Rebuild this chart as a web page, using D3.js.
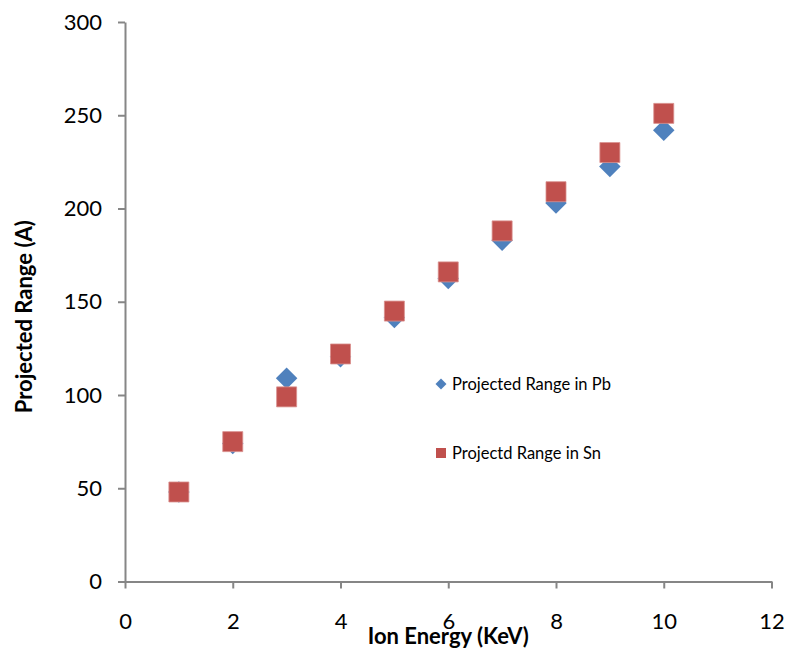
<!DOCTYPE html>
<html>
<head>
<meta charset="utf-8">
<script src="https://cdn.jsdelivr.net/npm/d3@7"></script>
<style>
  html, body { margin: 0; padding: 0; background: #fff; }
  svg { display: block; }
</style>
</head>
<body>
<svg id="chart" width="788" height="649"></svg>
<script>
// Ion energy (keV) and projected range (Å) for each target
const energies = [1, 2, 3, 4, 5, 6, 7, 8, 9, 10];
const rangePb = [48, 74, 109, 120.5, 141.5, 162.5, 183, 203, 222.5, 242];
const rangeSn = [48, 75, 99, 122, 145, 166, 188, 209, 230, 251];
const xTicks = [0, 2, 4, 6, 8, 10, 12];
const yTicks = [0, 50, 100, 150, 200, 250, 300];
const seriesNames = ["Projected Range in Pb", "Projectd Range in Sn"];

const svg = d3.select("#chart");
const font = "Lato, 'Open Sans', sans-serif";
const axisColor = "#868686";
const blue = "#4F81BD", red = "#C0504D";

const plot = { left: 125, right: 771.5, top: 22, bottom: 581.5 };

const x = d3.scaleLinear().domain([0, 12]).range([plot.left, plot.right]);
const y = d3.scaleLinear().domain([0, 300]).range([plot.bottom, plot.top]);

// Axes
const xAxis = svg.append("g")
  .attr("transform", `translate(0,${plot.bottom})`)
  .call(d3.axisBottom(x).tickValues(xTicks).tickSizeInner(7).tickSizeOuter(0).tickPadding(25));
const yAxis = svg.append("g")
  .attr("transform", `translate(${plot.left},0)`)
  .call(d3.axisLeft(y).tickValues(yTicks).tickSizeInner(7).tickSizeOuter(0).tickPadding(16));

[xAxis, yAxis].forEach(g => {
  g.select(".domain").attr("stroke", axisColor).attr("stroke-width", 2);
  g.selectAll(".tick line").attr("stroke", axisColor).attr("stroke-width", 2);
  g.selectAll(".tick text")
    .attr("fill", "#000")
    .style("font-family", font)
    .style("font-size", "22px");
});

// Axis titles
svg.append("text")
  .attr("x", (plot.left + plot.right) / 2)
  .attr("y", 644)
  .attr("text-anchor", "middle")
  .style("font-family", font)
  .style("font-weight", "bold")
  .style("font-size", "22px")
  .text("Ion Energy (KeV)");

svg.append("text")
  .attr("transform", `translate(32,${(plot.top + plot.bottom) / 2 + 15}) rotate(-90)`)
  .attr("text-anchor", "middle")
  .style("font-family", font)
  .style("font-weight", "bold")
  .style("font-size", "22px")
  .text("Projected Range (A)");

// Markers
const diamond = d3.symbol().type(d3.symbolSquare).size(230);
const square = d3.symbol().type(d3.symbolSquare).size(400);

svg.append("g").selectAll("path")
  .data(energies.map((e, i) => [e, rangePb[i]]))
  .join("path")
  .attr("d", diamond)
  .attr("transform", d => `translate(${x(d[0])},${y(d[1])}) rotate(45)`)
  .attr("fill", blue);

svg.append("g").selectAll("path")
  .data(energies.map((e, i) => [e, rangeSn[i]]))
  .join("path")
  .attr("d", square)
  .attr("transform", d => `translate(${x(d[0])},${y(d[1])})`)
  .attr("fill", red)
  .attr("stroke", "#d98f8d")
  .attr("stroke-width", 0.8);

// Legend
const legend = svg.append("g").style("font-family", font).style("font-size", "16.5px");
legend.append("path")
  .attr("d", d3.symbol().type(d3.symbolSquare).size(60))
  .attr("transform", "translate(441,384) rotate(45)")
  .attr("fill", blue);
legend.append("text").attr("x", 452).attr("y", 390).text(seriesNames[0]);
legend.append("path")
  .attr("d", d3.symbol().type(d3.symbolSquare).size(100))
  .attr("transform", "translate(441,453)")
  .attr("fill", red);
legend.append("text").attr("x", 452).attr("y", 459).text(seriesNames[1]);
</script>
</body>
</html>
